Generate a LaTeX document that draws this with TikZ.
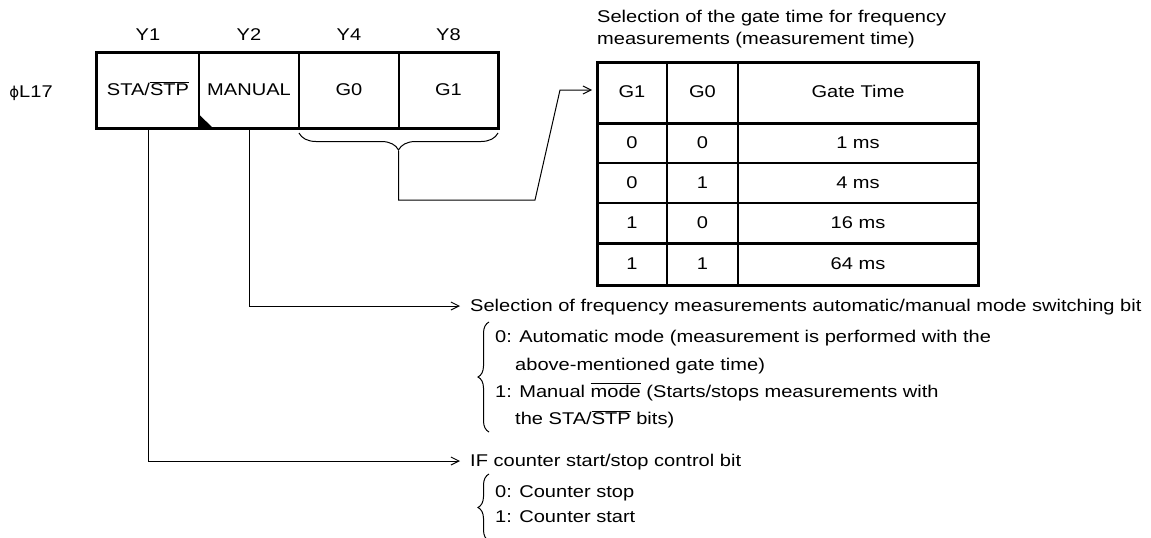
\documentclass[tikz,border=0pt]{standalone}
\usepackage{fontspec}
\setmainfont{Liberation Sans}[FakeStretch=1.18]
\newfontfamily\dejavu{DejaVu Sans}
\usetikzlibrary{arrows.meta,decorations.pathreplacing}
\newcommand\ovl[1]{$\overline{\mbox{#1}}$}
\begin{document}
\begin{tikzpicture}[x=1pt,y=-1pt, font=\fontsize{17}{21}\selectfont,
  txt/.style={inner sep=0pt, text height=13pt, text depth=3pt},
  conn/.style={line width=1pt},
  arr/.style={conn,-{Straight Barb[length=8pt,width=8pt]}},
  reg/.style={draw,line width=1.5pt,minimum height=75pt,inner sep=0pt, text height=13pt, text depth=3pt},
  brc/.style={decorate,decoration={brace,amplitude=#1},line width=1pt}]
\useasboundingbox (0,0) rectangle (1151,538);

% register
\node[txt] (phi) at (31,92) {{\dejavu\fontsize{15}{18}\selectfont ϕ}L17};
\node[reg,minimum width=102pt] (sta) at (148,90.5) {STA/\ovl{STP}};
\node[reg,minimum width=100pt] (manual) at (249,90.5) {MANUAL};
\node[reg,minimum width=100pt] (g0) at (349,90.5) {G0};
\node[reg,minimum width=99pt] (g1) at (448.5,90.5) {G1};
\draw[line width=3pt] (sta.north west) rectangle (g1.south east);
\fill (199.5,115) -- (199.5,128) -- (213,128) -- cycle;

\node[txt] (y1) at (148,35) {Y1};
\node[txt] (y2) at (249,35) {Y2};
\node[txt] (y4) at (349,35) {Y4};
\node[txt] (y8) at (448.5,35) {Y8};

% brace under G0/G1
\draw[brc=17pt] (498,133) -- (299,133);
\coordinate (gtip) at (398.5,151);
\coordinate (b1) at (398.5,200);
\coordinate (b2) at (535,200);
\coordinate (b3) at (560,90);
\coordinate (tabin) at (592,90);
\draw[arr] (gtip) -- (b1) -- (b2) -- (b3) -- (tabin);

% table title
\node[txt,anchor=west] (title1) at (597,18) {Selection of the gate time for frequency};
\node[txt,anchor=west] (title2) at (597,39) {measurements (measurement time)};

% table grid
\draw[line width=1.5pt] (667,62) -- (667,285) (738,62) -- (738,285)
  (597,163) -- (978,163) (597,203) -- (978,203);
\draw[line width=3pt] (597,123) -- (978,123) (597,243) -- (978,243);
\draw[line width=3pt] (597,62) rectangle (978,285);

\node[txt] (h1) at (632,92.5) {G1};
\node[txt] (h2) at (702.5,92.5) {G0};
\node[txt] (h3) at (858,92.5) {Gate Time};
\node[txt] (r11) at (632,143) {0};
\node[txt] (r12) at (702.5,143) {0};
\node[txt] (r13) at (858,143) {1 ms};
\node[txt] (r21) at (632,183) {0};
\node[txt] (r22) at (702.5,183) {1};
\node[txt] (r23) at (858,183) {4 ms};
\node[txt] (r31) at (632,223) {1};
\node[txt] (r32) at (702.5,223) {0};
\node[txt] (r33) at (858,223) {16 ms};
\node[txt] (r41) at (632,264) {1};
\node[txt] (r42) at (702.5,264) {1};
\node[txt] (r43) at (858,264) {64 ms};

% MANUAL description
\node[txt,anchor=west,inner xsep=10pt] (sel) at (460,306) {Selection of frequency measurements automatic/manual mode switching bit};
\draw[arr] (manual.south) |- (sel.west);
\draw[brc=11pt] (489,432) -- (489,322);
\node[txt,anchor=west] (m0a) at (495,337) {0: Automatic mode (measurement is performed with the};
\node[txt,anchor=west] (m0b) at (515,365) {above-mentioned gate time)};
\node[txt,anchor=west] (m1a) at (495,392) {1: Manual \ovl{mode} (Starts/stops measurements with};
\node[txt,anchor=west] (m1b) at (515,419) {the STA/\ovl{STP} bits)};

% STA/STP description
\node[txt,anchor=west,inner xsep=10pt] (ifc) at (460,461) {IF counter start/stop control bit};
\draw[arr] (sta.south) |- (ifc.west);
\draw[brc=11pt] (489,541) -- (489,474);
\node[txt,anchor=west] (c0) at (495,492) {0: Counter stop};
\node[txt,anchor=west] (c1) at (495,517) {1: Counter start};
\end{tikzpicture}
\end{document}
